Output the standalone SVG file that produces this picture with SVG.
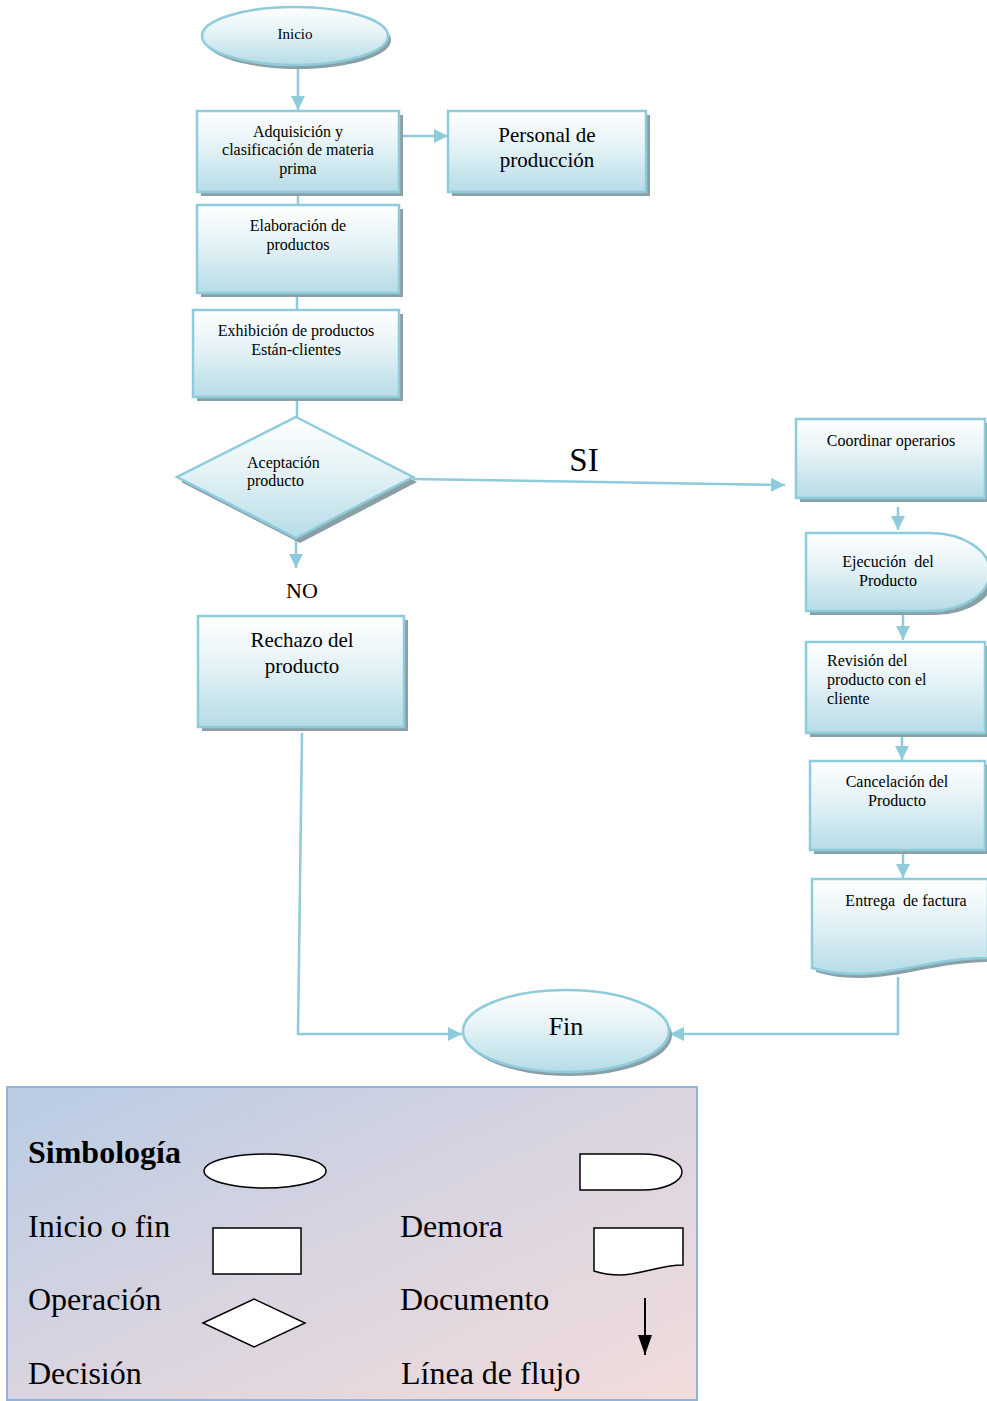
<svg xmlns="http://www.w3.org/2000/svg" width="987" height="1401" viewBox="0 0 987 1401">
<defs>
<linearGradient id="nodeFill" x1="0" y1="0" x2="0" y2="1">
<stop offset="0" stop-color="#ffffff"/>
<stop offset="0.45" stop-color="#e4f2f6"/>
<stop offset="1" stop-color="#b6dce6"/>
</linearGradient>
<linearGradient id="legendFill" x1="0" y1="0" x2="1" y2="1">
<stop offset="0" stop-color="#b8cce4"/>
<stop offset="0.5" stop-color="#d9d4e0"/>
<stop offset="1" stop-color="#f2dcdb"/>
</linearGradient>
<marker id="arr" viewBox="0 0 10 10" refX="10" refY="5" markerWidth="14" markerHeight="14" markerUnits="userSpaceOnUse" orient="auto">
<path d="M0,0 L10,5 L0,10 Z" fill="#8ecbdb"/>
</marker>
<marker id="arrBlack" viewBox="0 0 20 14" refX="20" refY="7" markerWidth="20" markerHeight="14" markerUnits="userSpaceOnUse" orient="auto">
<path d="M0,0 L20,7 L0,14 Z" fill="#000"/>
</marker>
</defs>
<style>
.node{fill:url(#nodeFill);stroke:#8ecbdb;stroke-width:2.5}
.shadow{fill:#8a9fa6}
.t{font-family:"Liberation Serif","Times New Roman",serif;fill:#000}
.s14{font-size:16px}
.s20{font-size:21px}
.conn{fill:none;stroke:#8ecbdb;stroke-width:2.5}
.leg{fill:#fff;stroke:#000;stroke-width:1.5}
.lt{font-family:"Liberation Serif","Times New Roman",serif;font-size:32px;fill:#000}
</style>

<g id="connectors">
<line class="conn" x1="298" y1="68" x2="298" y2="110" marker-end="url(#arr)"/>
<line class="conn" x1="401" y1="136" x2="448" y2="136" marker-end="url(#arr)"/>
<line class="conn" x1="298" y1="193" x2="298" y2="205"/>
<line class="conn" x1="297" y1="294" x2="297" y2="310"/>
<line class="conn" x1="297" y1="398" x2="297" y2="417"/>
<line class="conn" x1="296" y1="540" x2="296" y2="568" marker-end="url(#arr)"/>
<line class="conn" x1="413" y1="479" x2="785" y2="485" marker-end="url(#arr)"/>
<line class="conn" x1="898" y1="507" x2="898" y2="530" marker-end="url(#arr)"/>
<line class="conn" x1="903" y1="612" x2="903" y2="640" marker-end="url(#arr)"/>
<line class="conn" x1="902" y1="736" x2="902" y2="760" marker-end="url(#arr)"/>
<line class="conn" x1="903" y1="853" x2="903" y2="878" marker-end="url(#arr)"/>
<polyline class="conn" points="898,977 898,1034 670,1034" marker-end="url(#arr)"/>
<polyline class="conn" points="302,733 298,1034 462,1034" marker-end="url(#arr)"/>
</g>

<g id="inicio">
<ellipse class="shadow" cx="298" cy="40" rx="93" ry="29"/>
<ellipse class="node" cx="295" cy="36" rx="93" ry="29"/>
<text class="t" font-size="15" x="295" y="39" text-anchor="middle">Inicio</text>
</g>

<g id="adquisicion">
<rect class="shadow" x="201" y="115" width="202" height="81"/>
<rect class="node" x="197" y="111" width="202" height="81"/>
<text class="t s14" text-anchor="middle"><tspan x="298" y="137">Adquisición y</tspan><tspan x="298" y="155">clasificación de materia</tspan><tspan x="298" y="174">prima</tspan></text>
</g>

<g id="personal">
<rect class="shadow" x="452" y="115" width="198" height="81"/>
<rect class="node" x="448" y="111" width="198" height="81"/>
<text class="t s20" text-anchor="middle"><tspan x="547" y="142">Personal de</tspan><tspan x="547" y="167">producción</tspan></text>
</g>

<g id="elaboracion">
<rect class="shadow" x="201" y="209" width="202" height="88"/>
<rect class="node" x="197" y="205" width="202" height="88"/>
<text class="t s14" text-anchor="middle"><tspan x="298" y="231">Elaboración de</tspan><tspan x="298" y="250">productos</tspan></text>
</g>

<g id="exhibicion">
<rect class="shadow" x="197" y="314" width="206" height="87"/>
<rect class="node" x="193" y="310" width="206" height="87"/>
<text class="t s14" text-anchor="middle"><tspan x="296" y="336">Exhibición de productos</tspan><tspan x="296" y="355">Están-clientes</tspan></text>
</g>

<g id="aceptacion">
<polygon class="shadow" points="300,421 417,482 300,543 181,482"/>
<polygon class="node" points="296,417 413,477 296,538 177,477"/>
<text class="t s14"><tspan x="247" y="468">Aceptación</tspan><tspan x="247" y="486">producto</tspan></text>
</g>

<g id="no-label">
<text class="t" font-size="22" x="302" y="598" text-anchor="middle">NO</text>
</g>

<g id="si-label">
<text class="t" font-size="33" x="584" y="471" text-anchor="middle">SI</text>
</g>

<g id="rechazo">
<rect class="shadow" x="202" y="620" width="206" height="111"/>
<rect class="node" x="198" y="616" width="206" height="111"/>
<text class="t s20" text-anchor="middle"><tspan x="302" y="647">Rechazo del</tspan><tspan x="302" y="673">producto</tspan></text>
</g>

<g id="coordinar">
<rect class="shadow" x="800" y="423" width="190" height="79"/>
<rect class="node" x="796" y="419" width="189" height="79"/>
<text class="t s14" x="891" y="446" text-anchor="middle">Coordinar operarios</text>
</g>

<g id="ejecucion">
<path class="shadow" d="M810,537 H935 A60,39 0 0 1 935,615 H810 Z"/>
<path class="node" d="M806,533 H930 A60,39 0 0 1 930,611 H806 Z"/>
<text class="t s14" text-anchor="middle"><tspan x="888" y="567">Ejecución&#160; del</tspan><tspan x="888" y="586">Producto</tspan></text>
</g>

<g id="revision">
<rect class="shadow" x="810" y="646" width="180" height="91"/>
<rect class="node" x="806" y="642" width="179" height="91"/>
<text class="t s14"><tspan x="827" y="666">Revisión del</tspan><tspan x="827" y="685">producto con el</tspan><tspan x="827" y="704">cliente</tspan></text>
</g>

<g id="cancelacion">
<rect class="shadow" x="814" y="765" width="176" height="89"/>
<rect class="node" x="810" y="761" width="175" height="89"/>
<text class="t s14" text-anchor="middle"><tspan x="897" y="787">Cancelación del</tspan><tspan x="897" y="806">Producto</tspan></text>
</g>

<g id="entrega">
<path class="shadow" d="M816,883 H991 V962 C940,962 900,978 860,978 C840,978 826,975 816,972 Z"/>
<path class="node" d="M812,879 H988 V958 C937,958 897,974 857,974 C837,974 822,971 812,968 Z"/>
<text class="t s14" x="906" y="906" text-anchor="middle">Entrega&#160; de factura</text>
</g>

<g id="fin">
<ellipse class="shadow" cx="569" cy="1035" rx="103" ry="41"/>
<ellipse class="node" cx="566" cy="1031" rx="103" ry="41"/>
<text class="t" font-size="26" x="566" y="1035" text-anchor="middle">Fin</text>
</g>

<g id="legend">
<rect x="7" y="1087" width="690" height="313" fill="url(#legendFill)" stroke="#95b3d7" stroke-width="2"/>
<text class="lt" x="28" y="1163" font-weight="bold">Simbología</text>
<text class="lt" x="28" y="1237">Inicio o fin</text>
<text class="lt" x="28" y="1310">Operación</text>
<text class="lt" x="28" y="1384">Decisión</text>
<text class="lt" x="400" y="1237">Demora</text>
<text class="lt" x="400" y="1310">Documento</text>
<text class="lt" x="401" y="1384">Línea de flujo</text>
<ellipse class="leg" cx="265" cy="1171" rx="61" ry="17"/>
<rect class="leg" x="213" y="1228" width="88" height="46"/>
<polygon class="leg" points="203,1323 254,1299 305,1323 254,1347"/>
<path class="leg" d="M580,1154 H642 A40,18 0 0 1 642,1190 H580 Z"/>
<path class="leg" d="M594,1228 H683 V1265 C660,1265 640,1275 620,1275 C608,1275 600,1273 594,1271 Z"/>
<line x1="645" y1="1298" x2="645" y2="1355" stroke="#000" stroke-width="2" marker-end="url(#arrBlack)"/>
</g>
</svg>
